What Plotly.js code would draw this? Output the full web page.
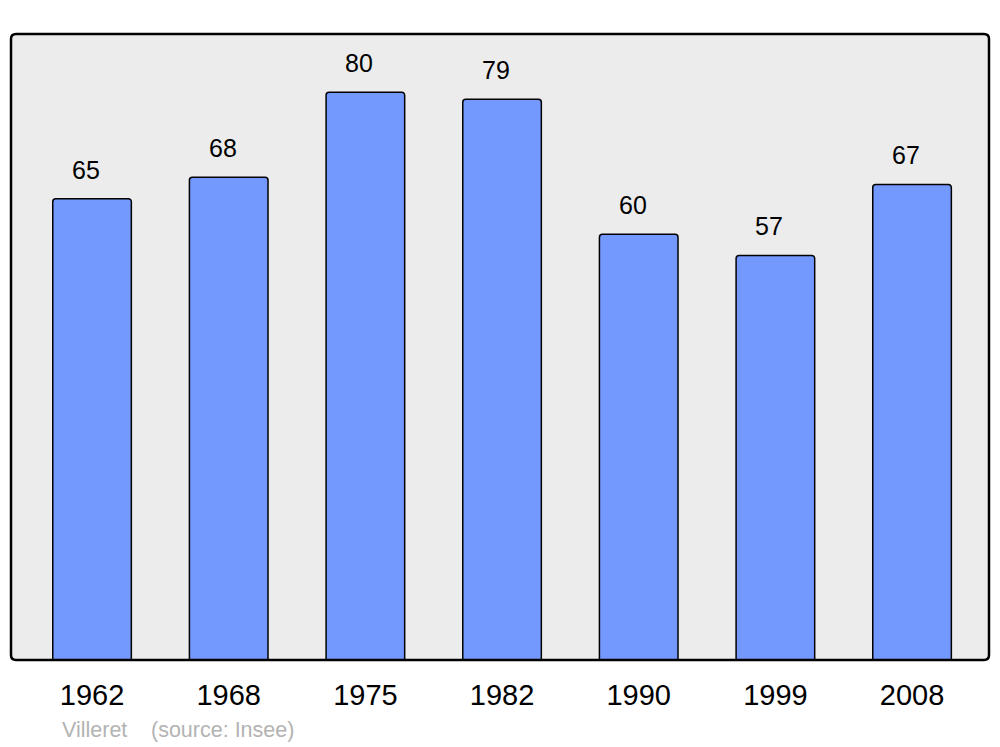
<!DOCTYPE html>
<html><head><meta charset="utf-8">
<script src="https://cdn.plot.ly/plotly-3.0.1.min.js"></script>
<style>body{margin:0;background:#fff}#c{width:1000px;height:747px}</style>
</head><body><div id="c"></div>
<script>
const years = ["1962","1968","1975","1982","1990","1999","2008"];
const population = [65, 68, 80, 79, 60, 57, 67];
const commune = "Villeret";
const sourceText = "(source: Insee)";

const rx = 5/978, ry = 5/626;
const framePath = `M ${rx},0 L ${1-rx},0 Q 1,0 1,${ry} L 1,${1-ry} Q 1,1 ${1-rx},1 L ${rx},1 Q 0,1 0,${1-ry} L 0,${ry} Q 0,0 ${rx},0 Z`;

const trace = {
  type: 'bar', x: years, y: population, width: 0.575,
  marker: {color: '#7399ff', line: {color: '#000', width: 1.5}, cornerradius: 3},
  hoverinfo: 'skip'
};

const font = 'Liberation Sans, Arial, sans-serif';
const annotations = years.map((yr, i) => ({
  x: i, y: population[i], xref: 'x', yref: 'y', text: String(population[i]),
  showarrow: false, yanchor: 'bottom', yshift: 13, xshift: -6,
  font: {family: font, size: 25, color: '#000'}
}));
annotations.push({x: (60-11)/978, y: (660-730)/626, xref: 'paper', yref: 'paper', xanchor: 'left', yanchor: 'middle',
  text: commune, showarrow: false, font: {family: font, size: 21.5, color: '#b3b3b3'}});
annotations.push({x: (149-11)/978, y: (660-730)/626, xref: 'paper', yref: 'paper', xanchor: 'left', yanchor: 'middle',
  text: sourceText, showarrow: false, font: {family: font, size: 21.5, color: '#b3b3b3'}});

const layout = {
  width: 1000, height: 747,
  margin: {l: 11, r: 11, t: 34, b: 87, pad: 0},
  paper_bgcolor: '#fff', plot_bgcolor: 'rgba(0,0,0,0)',
  showlegend: false,
  xaxis: {type: 'category', range: [-0.593, 6.563], showgrid: false, zeroline: false, showline: false,
    ticks: '', ticklabelstandoff: 15,
    tickfont: {family: font, size: 29, color: '#000'}},
  yaxis: {range: [0, 88.2], showgrid: false, zeroline: false, showline: false, showticklabels: false, ticks: ''},
  shapes: [
    {type: 'path', xref: 'paper', yref: 'paper', path: framePath, fillcolor: '#ececec', line: {width: 0}, layer: 'below'},
    {type: 'path', xref: 'paper', yref: 'paper', path: framePath, fillcolor: 'rgba(0,0,0,0)', line: {color: '#000', width: 2.5}, layer: 'above'}
  ],
  annotations: annotations
};
Plotly.newPlot('c', [trace], layout, {staticPlot: true, displayModeBar: false});
</script></body></html>
